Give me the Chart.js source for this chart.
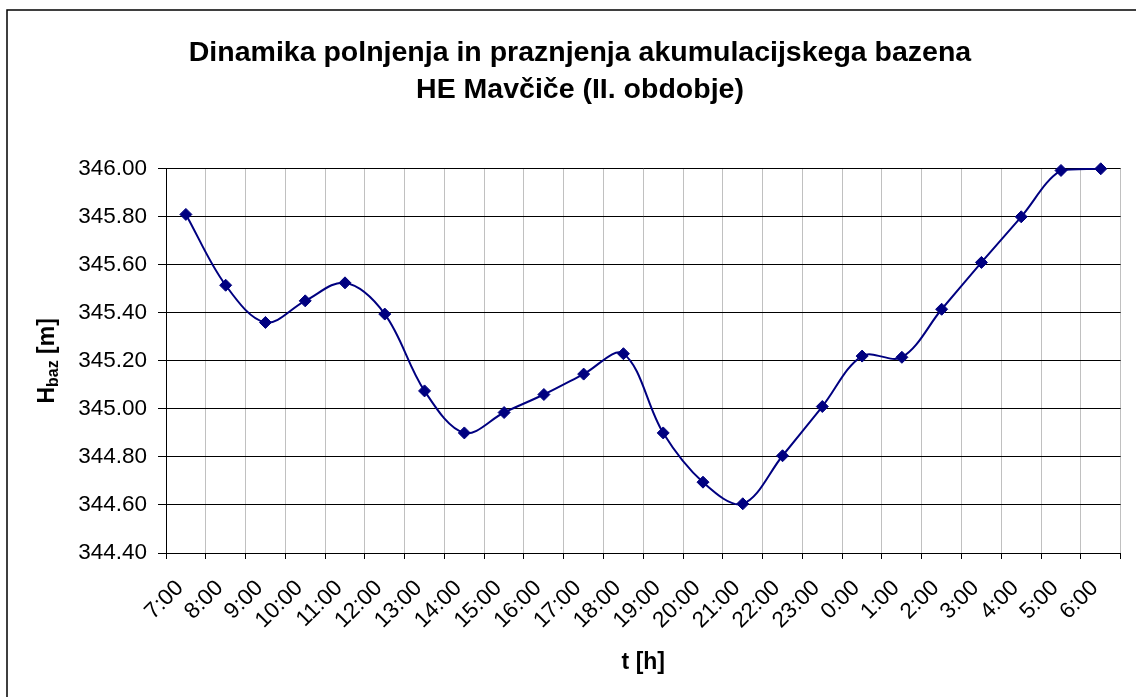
<!DOCTYPE html>
<html>
<head>
<meta charset="utf-8">
<script src="https://cdn.jsdelivr.net/npm/chart.js@4.4.1/dist/chart.umd.min.js"></script>
<style>
  html, body { margin: 0; padding: 0; background: #fff; }
  #wrap { width: 1136px; height: 697px; position: relative; }
</style>
</head>
<body>
<div id="wrap"><canvas id="chart" width="1136" height="697"></canvas></div>
<script>
// Data
const hours = ['7:00', '8:00', '9:00', '10:00', '11:00', '12:00', '13:00', '14:00', '15:00', '16:00',
  '17:00', '18:00', '19:00', '20:00', '21:00', '22:00', '23:00', '0:00', '1:00', '2:00', '3:00',
  '4:00', '5:00', '6:00'];
const waterLevel = [345.81, 345.515, 345.36, 345.45, 345.525, 345.395, 345.075, 344.90, 344.985, 345.06,
  345.145, 345.23, 344.90, 344.695, 344.605, 344.805, 345.01, 345.22, 345.215, 345.415, 345.61,
  345.80, 345.993, 346.00];
const titleLines = ['Dinamika polnjenja in praznjenja akumulacijskega bazena', 'HE Mavčiče (II. obdobje)'];
const xTitle = 't [h]';
const yMin = 344.4;
const yMax = 346.0;
const yStep = 0.2;

const fontFamily = '"Liberation Sans", Arial, sans-serif';
const lineColor = '#000080';

// outer frame of the chart area (left and top visible)
const framePlugin = {
  id: 'frame',
  beforeDraw(chart) {
    const ctx = chart.ctx;
    ctx.save();
    ctx.strokeStyle = '#000';
    ctx.lineWidth = 1.5;
    ctx.strokeRect(7, 10, 1200, 800);
    ctx.restore();
  }
};

// y axis title with subscript: H_baz [m]
const yTitlePlugin = {
  id: 'yTitle',
  afterDraw(chart) {
    const { ctx, chartArea } = chart;
    const cy = (chartArea.top + chartArea.bottom) / 2;
    const big = 'bold 23px ' + fontFamily;
    const small = 'bold 16px ' + fontFamily;
    ctx.save();
    ctx.translate(54, cy);
    ctx.rotate(-Math.PI / 2);
    ctx.fillStyle = '#000';
    ctx.textBaseline = 'alphabetic';
    ctx.textAlign = 'left';
    ctx.font = big;
    const wH = ctx.measureText('H').width;
    const wM = ctx.measureText(' [m]').width;
    ctx.font = small;
    const wS = ctx.measureText('baz').width;
    let x = -(wH + wS + wM) / 2;
    ctx.font = big;
    ctx.fillText('H', x, 0);
    x += wH;
    ctx.font = small;
    ctx.fillText('baz', x, 4);
    x += wS;
    ctx.font = big;
    ctx.fillText(' [m]', x, 0);
    ctx.restore();
  }
};

const ctx = document.getElementById('chart').getContext('2d');
new Chart(ctx, {
  type: 'line',
  data: {
    labels: hours,
    datasets: [{
      data: waterLevel,
      borderColor: lineColor,
      backgroundColor: lineColor,
      borderWidth: 2,
      tension: 0.35,
      pointStyle: 'rectRot',
      pointRadius: 6,
      pointBorderWidth: 1,
      pointBackgroundColor: lineColor,
      pointBorderColor: lineColor,
      clip: false
    }]
  },
  options: {
    responsive: false,
    devicePixelRatio: 1,
    animation: false,
    layout: { padding: { left: 28, right: 4, top: 0, bottom: 0 } },
    plugins: {
      legend: { display: false },
      tooltip: { enabled: false },
      title: {
        display: true,
        text: titleLines,
        color: '#000',
        font: { family: fontFamily, size: 28.5, weight: 'bold', lineHeight: 1.312 },
        padding: { top: 34, bottom: 60 }
      }
    },
    scales: {
      x: {
        offset: true,
        afterFit(scale) { scale.height = 144; },
        grid: {
          offset: true,
          color: '#c0c0c0',
          tickColor: '#000',
          tickLength: 6,
          lineWidth: 1
        },
        border: { color: '#000', width: 1 },
        ticks: {
          color: '#000',
          font: { family: fontFamily, size: 22.5 },
          minRotation: 45,
          maxRotation: 45,
          autoSkip: false,
          padding: 16,
          labelOffset: -6
        },
        title: {
          display: true,
          text: xTitle,
          color: '#000',
          font: { family: fontFamily, size: 23, weight: 'bold' },
          padding: { top: 0, bottom: 21 }
        }
      },
      y: {
        min: yMin,
        max: yMax,
        afterFit(scale) { scale.width = 138; },
        grid: {
          color: '#000',
          tickColor: '#000',
          tickLength: 8,
          lineWidth: 1
        },
        border: { color: '#000', width: 1 },
        ticks: {
          stepSize: yStep,
          color: '#000',
          padding: 11,
          font: { family: fontFamily, size: 22.5 },
          callback: (v) => Number(v).toFixed(2)
        }
      }
    }
  },
  plugins: [framePlugin, yTitlePlugin]
});
</script>
</body>
</html>
